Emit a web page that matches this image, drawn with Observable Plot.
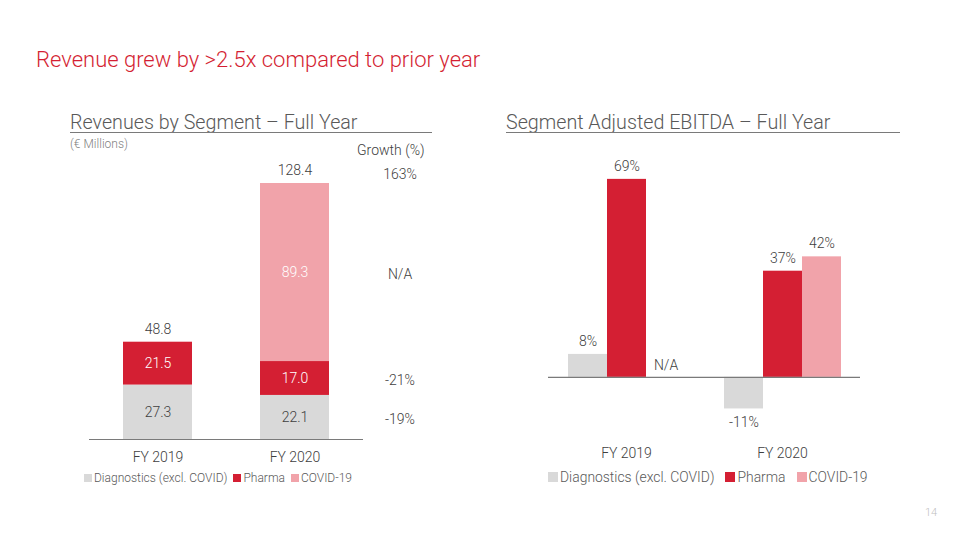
<!DOCTYPE html>
<html>
<head>
<meta charset="utf-8">
<script src="https://cdn.jsdelivr.net/npm/d3@7"></script>
<script src="https://cdn.jsdelivr.net/npm/@observablehq/plot@0.6"></script>
<style>
  html, body { margin: 0; padding: 0; background: #fff; }
  body { width: 960px; height: 540px; position: relative; overflow: hidden; font-family: Roboto, "Noto Sans", sans-serif; }
  .abs { position: absolute; white-space: nowrap; }
  .slide-title { left: 36px; top: 49px; font-size: 22px; line-height: 22px; font-weight: 300; color: #D41F33; }
  .sec-title { font-size: 19.7px; line-height: 20px; font-weight: 300; color: #595959; }
  .rule { position: absolute; height: 1px; background: #7a7a7a; }
  .legend { position: absolute; display: flex; align-items: center; color: #595959; font-weight: 300; }
  .legend .item { display: flex; align-items: center; }
  .legend .sw { display: inline-block; }
</style>
</head>
<body>
<div class="abs slide-title">Revenue grew by &gt;2.5x compared to prior year</div>

<div class="abs sec-title" style="left:70px; top:113px;">Revenues by Segment – Full Year</div>
<div class="rule" style="left:70px; top:132px; width:362px;"></div>
<div class="abs" style="left:70px; top:137px; font-size:12px; line-height:14px; color:#7f7f7f; font-weight:300;">(€ Millions)</div>
<div class="abs" style="left:357px; top:142px; font-size:14px; line-height:16px; color:#404040; font-weight:300;">Growth (%)</div>

<div class="abs sec-title" style="left:506px; top:113px;">Segment Adjusted EBITDA – Full Year</div>
<div class="rule" style="left:506px; top:132px; width:394px;"></div>

<div id="left" class="abs" style="left:60px; top:150px;"></div>
<div id="right" class="abs" style="left:500px; top:150px;"></div>

<div id="legend-left" class="legend" style="left:84px; top:471px; font-size:12px; line-height:14px;"></div>
<div id="legend-right" class="legend" style="left:548px; top:469px; font-size:13.9px; line-height:16px;"></div>

<div class="abs" style="left:925px; top:506px; font-size:11px; line-height:13px; color:#bfbfbf; font-weight:300;">14</div>

<script>
// ---------- Data ----------
const years = ["FY 2019", "FY 2020"];
const segments = ["Diagnostics (excl. COVID)", "Pharma", "COVID-19"];
const segmentColors = ["#D9D9D9", "#D41F33", "#F1A3AA"];

// Revenues (€ Millions), per segment, per year
const revDiagnostics = [27.3, 22.1];
const revPharma = [21.5, 17.0];
const revCovid = [null, 89.3];

// Growth FY2020 vs FY2019
const growthBySegment = ["-19%", "-21%", "N/A"];
const growthTotal = "163%";

// Segment adjusted EBITDA margin (%)
const ebitdaDiagnostics = [8, -11];
const ebitdaPharma = [69, 37];
const ebitdaCovid = [null, 42];

// ---------- Tables ----------
const revSeries = [revDiagnostics, revPharma, revCovid];
const revenue = [];
years.forEach((year, i) => segments.forEach((segment, s) => {
  if (revSeries[s][i] != null) revenue.push({year, segment, value: revSeries[s][i], growth: growthBySegment[s]});
}));
const totals = years.map(year => ({year, total: d3.sum(revenue.filter(d => d.year === year), d => d.value)}));

const ebSeries = [ebitdaDiagnostics, ebitdaPharma, ebitdaCovid];
const ebitda = [];
years.forEach((year, i) => segments.forEach((segment, s) => {
  ebitda.push({year, segment, value: ebSeries[s][i]});
}));

const font = {fontFamily: "Roboto, sans-serif", fontSize: "14px", color: "#404040", background: "transparent", fontWeight: 300};
const labelColor = "#404040";

// ---------- Left chart: stacked revenues ----------
const stackOpts = {x: "year", y: "value", z: "segment", order: segments, text: d => d.value.toFixed(1), fontSize: 14};
const left = Plot.plot({
  width: 400, height: 320,
  marginLeft: 29, marginRight: 97, marginTop: 33, marginBottom: 31,
  style: font,
  x: {domain: years, paddingInner: 0.5, paddingOuter: 0.25, tickSize: 0, tickPadding: 13, label: null},
  y: {domain: [0, d3.max(totals, d => d.total)], axis: null},
  color: {domain: segments, range: segmentColors},
  marks: [
    Plot.barY(revenue, {x: "year", y: "value", fill: "segment", order: segments}),
    Plot.ruleY([0], {stroke: "#7a7a7a", strokeWidth: 1.2}),
    Plot.textY(revenue, Plot.filter(d => d.segment === segments[0], Plot.stackY({...stackOpts, fill: labelColor}))),
    Plot.textY(revenue, Plot.filter(d => d.segment !== segments[0], Plot.stackY({...stackOpts, fill: "white"}))),
    Plot.text(totals, {x: "year", y: "total", text: d => d.total.toFixed(1), dy: -13, fill: labelColor, fontSize: 14}),
    Plot.textY(revenue, Plot.filter(d => d.year === years[1], Plot.stackY({...stackOpts, text: "growth", dx: 105, dy: 2, fill: labelColor}))),
    Plot.text(totals.filter(d => d.year === years[1]), {x: "year", y: "total", text: () => growthTotal, dx: 105, dy: -9, fill: labelColor, fontSize: 14})
  ]
});
document.getElementById("left").appendChild(left);

// ---------- Right chart: grouped EBITDA ----------
const right = Plot.plot({
  width: 420, height: 320,
  marginLeft: 48, marginRight: 60, marginTop: 26, marginBottom: 30,
  style: font,
  fx: {domain: years, padding: 0, axis: "bottom", tickSize: 0, tickPadding: 8, label: null},
  x: {domain: segments, paddingInner: 0, paddingOuter: 0.5, axis: null},
  y: {domain: [-22, 70], axis: null},
  color: {domain: segments, range: segmentColors},
  marks: [
    Plot.barY(ebitda, {filter: d => d.value != null, fx: "year", x: "segment", y: "value", fill: "segment"}),
    Plot.ruleY([0], {stroke: "#7a7a7a", strokeWidth: 1.2}),
    Plot.text(ebitda, {filter: d => d.value != null && d.value >= 0, fx: "year", x: "segment", y: "value", text: d => d.value + "%", dy: -13, fill: labelColor, fontSize: 14}),
    Plot.text(ebitda, {filter: d => d.value != null && d.value < 0, fx: "year", x: "segment", y: "value", text: d => d.value + "%", dy: 14, fill: labelColor, fontSize: 14}),
    Plot.text(ebitda, {filter: d => d.value == null, fx: "year", x: "segment", y: () => 0, text: () => "N/A", dy: -12, fill: labelColor, fontSize: 14})
  ]
});
document.getElementById("right").appendChild(right);

// ---------- Legends ----------
function legend(el, size, gap, itemGap) {
  const root = document.getElementById(el);
  segments.forEach((s, i) => {
    const item = document.createElement("span");
    item.className = "item";
    item.style.marginRight = itemGap + "px";
    const sw = document.createElement("span");
    sw.className = "sw";
    sw.style.width = size + "px"; sw.style.height = size + "px";
    sw.style.background = segmentColors[i];
    sw.style.marginRight = gap + "px";
    item.appendChild(sw);
    item.appendChild(document.createTextNode(s));
    root.appendChild(item);
  });
}
legend("legend-left", 8, 2, 6);
legend("legend-right", 10, 2, 11);
</script>
</body>
</html>
